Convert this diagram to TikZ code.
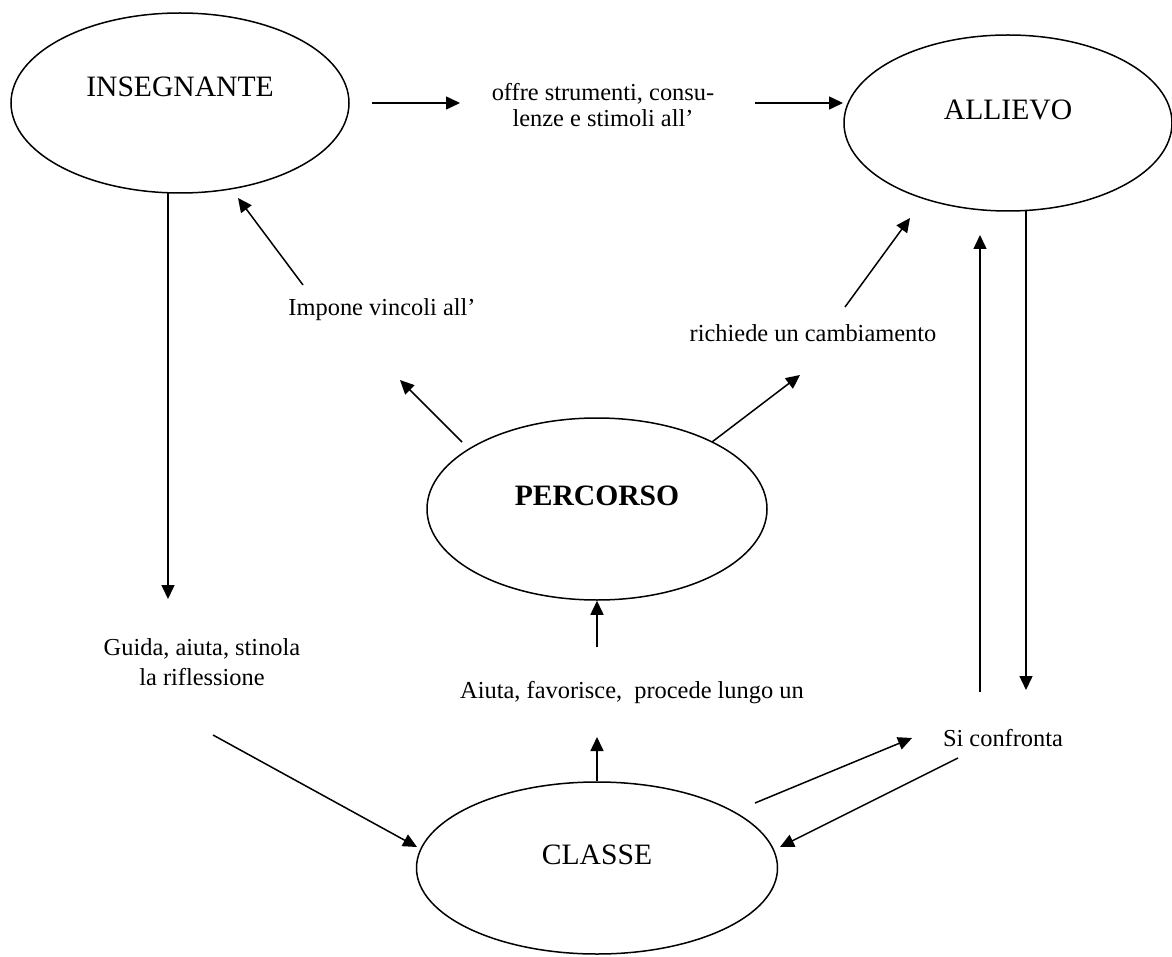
\documentclass[tikz,border=0pt]{standalone}
\usepackage{fontspec}
\setmainfont{Liberation Serif}
\usetikzlibrary{shapes.geometric,arrows.meta}
\begin{document}
\begin{tikzpicture}[x=0.5pt,y=-0.5pt,line width=0.75pt]
  \tikzstyle{bubble}=[ellipse,draw,inner sep=0pt]
  \tikzstyle{big}=[font=\fontsize{14.8}{17}\selectfont]
  \tikzstyle{txt}=[font=\fontsize{12.2}{13}\selectfont,align=center,inner sep=0pt]
  \tikzstyle{line}=[draw,-{Triangle[length=7pt,width=6.5pt]}]
  \useasboundingbox (0,0) rectangle (1172,957);
  % ellipses
  \node[bubble,minimum width=169pt,minimum height=90pt,label={[big,yshift=8pt]center:INSEGNANTE}] (insegnante) at (180,103) {};
  \node[bubble,minimum width=164pt,minimum height=88pt,label={[big,yshift=6.5pt]center:ALLIEVO}] (allievo) at (1008,123) {};
  \node[bubble,minimum width=170pt,minimum height=91pt,label={[big,yshift=6.5pt]center:\textbf{PERCORSO}}] (percorso) at (597,509) {};
  \node[bubble,minimum width=180.5pt,minimum height=86pt,label={[big,yshift=6.5pt]center:CLASSE}] (classe) at (597,868) {};
  % labels
  \node[txt] (offre) at (603,105) {offre strumenti, consu-\\lenze e stimoli all'};
  \node[txt] (impone) at (382,310) {Impone vincoli all'};
  \node[txt] (richiede) at (813,333) {richiede un cambiamento};
  \node[txt,font=\fontsize{12.2}{15}\selectfont] (guida) at (202,662) {Guida, aiuta, stinola\\la riflessione};
  \node[txt] (aiuta) at (632,693) {Aiuta, favorisce,\ \ procede lungo un};
  \node[txt] (confronta) at (1003,738) {Si confronta};
  % arrow ends
  \coordinate (ins-out) at (372,103);
  \coordinate (offre-in) at (460,103);
  \coordinate (offre-out) at (755,103);
  \coordinate (all-in) at (843,103);
  \coordinate (ins-down) at (168,193);
  \coordinate (guida-in) at (168,599);
  \coordinate (imp-out) at (303,285);
  \coordinate (ins-in) at (238,198);
  \coordinate (perc-l) at (462,442);
  \coordinate (imp-in) at (400,380);
  \coordinate (perc-r) at (712,442);
  \coordinate (rich-in) at (800,375);
  \coordinate (rich-out) at (845,307);
  \coordinate (all-in2) at (910,218);
  \coordinate (aiuta-out) at (597,647);
  \coordinate (aiuta-in) at (597,737);
  \coordinate (guida-out) at (213,735);
  \coordinate (classe-l) at (417,847);
  \coordinate (classe-out) at (755,803);
  \coordinate (conf-in) at (912,738);
  \coordinate (conf-out) at (958,758);
  \coordinate (classe-r) at (780,847);
  \coordinate (conf-up) at (980,692);
  \coordinate (all-in3) at (980,235);
  \coordinate (all-out) at (1026,210);
  \coordinate (conf-in2) at (1026,690);
  % arrows
  \draw[line] (ins-out) -- (offre-in);
  \draw[line] (offre-out) -- (all-in);
  \draw[line] (ins-down) -- (guida-in);
  \draw[line] (imp-out) -- (ins-in);
  \draw[line] (perc-l) -- (imp-in);
  \draw[line] (perc-r) -- (rich-in);
  \draw[line] (rich-out) -- (all-in2);
  \draw[line] (aiuta-out) -- (percorso.south);
  \draw[line] (classe.north) -- (aiuta-in);
  \draw[line] (guida-out) -- (classe-l);
  \draw[line] (classe-out) -- (conf-in);
  \draw[line] (conf-out) -- (classe-r);
  \draw[line] (conf-up) -- (all-in3);
  \draw[line] (all-out) -- (conf-in2);
\end{tikzpicture}
\end{document}
